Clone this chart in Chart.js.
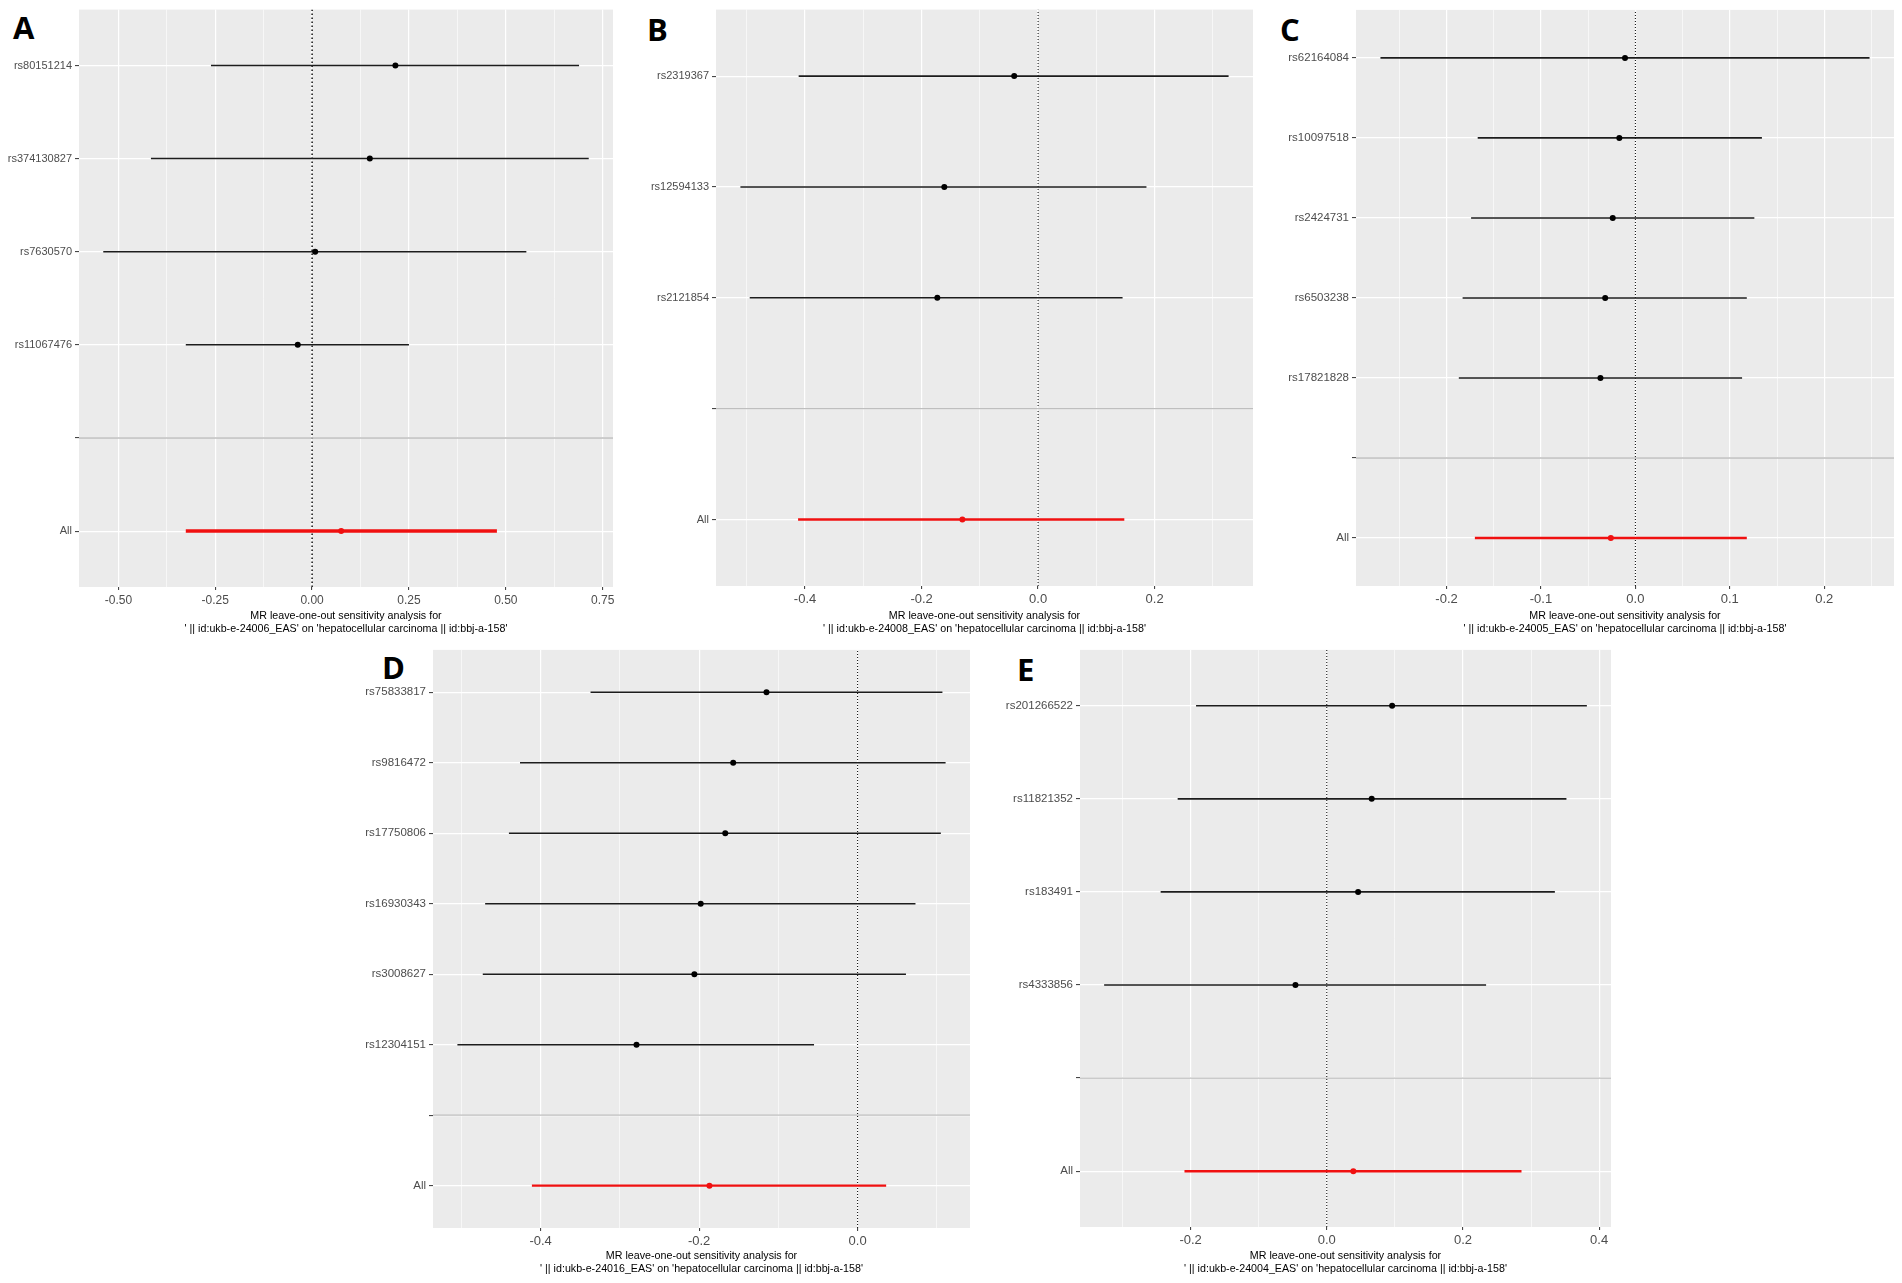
<!DOCTYPE html>
<html>
<head>
<meta charset="utf-8">
<script src="https://cdn.jsdelivr.net/npm/chart.js@4.4.1/dist/chart.umd.min.js"></script>
<style>
  html, body { margin: 0; padding: 0; background: #fff; }
  body { width: 1902px; height: 1283px; position: relative; overflow: hidden; }
  canvas { position: absolute; }
  .tag { position: absolute; font-family: 'Open Sans', sans-serif; font-weight: 700; font-size: 31px; line-height: 1; color: #000; }
</style>
</head>
<body>
<div class="tag" style="left:13px;top:12px">A</div>
<div class="tag" style="left:647px;top:14px">B</div>
<div class="tag" style="left:1280px;top:14px">C</div>
<div class="tag" style="left:382px;top:652px">D</div>
<div class="tag" style="left:1017px;top:654px">E</div>
<canvas id="chartA"></canvas>
<canvas id="chartB"></canvas>
<canvas id="chartC"></canvas>
<canvas id="chartD"></canvas>
<canvas id="chartE"></canvas>
<script>
// ---- data, rows listed top to bottom, '' = separator row ----
const snpsA = ['rs80151214', 'rs374130827', 'rs7630570', 'rs11067476', '', 'All'];
const estA  = [0.215, 0.149, 0.008, -0.037, null, 0.075];
const lowA  = [-0.261, -0.416, -0.539, -0.326, null, -0.326];
const highA = [0.689, 0.714, 0.553, 0.250, null, 0.477];
const ticksA = [-0.5, -0.25, 0, 0.25, 0.5, 0.75];
const tickLabelsA = ['-0.50', '-0.25', '0.00', '0.25', '0.50', '0.75'];

const snpsB = ['rs2319367', 'rs12594133', 'rs2121854', '', 'All'];
const estB  = [-0.041, -0.161, -0.173, null, -0.130];
const lowB  = [-0.411, -0.511, -0.495, null, -0.412];
const highB = [0.327, 0.186, 0.145, null, 0.148];
const ticksB = [-0.4, -0.2, 0, 0.2];
const tickLabelsB = ['-0.4', '-0.2', '0.0', '0.2'];

const snpsC = ['rs62164084', 'rs10097518', 'rs2424731', 'rs6503238', 'rs17821828', '', 'All'];
const estC  = [-0.011, -0.017, -0.024, -0.032, -0.037, null, -0.026];
const lowC  = [-0.270, -0.167, -0.174, -0.183, -0.187, null, -0.170];
const highC = [0.248, 0.134, 0.126, 0.118, 0.113, null, 0.118];
const ticksC = [-0.2, -0.1, 0, 0.1, 0.2];
const tickLabelsC = ['-0.2', '-0.1', '0.0', '0.1', '0.2'];

const snpsD = ['rs75833817', 'rs9816472', 'rs17750806', 'rs16930343', 'rs3008627', 'rs12304151', '', 'All'];
const estD  = [-0.115, -0.157, -0.167, -0.198, -0.206, -0.279, null, -0.187];
const lowD  = [-0.337, -0.426, -0.440, -0.470, -0.473, -0.505, null, -0.411];
const highD = [0.107, 0.111, 0.105, 0.073, 0.061, -0.055, null, 0.036];
const ticksD = [-0.4, -0.2, 0];
const tickLabelsD = ['-0.4', '-0.2', '0.0'];

const snpsE = ['rs201266522', 'rs11821352', 'rs183491', 'rs4333856', '', 'All'];
const estE  = [0.096, 0.066, 0.046, -0.046, null, 0.039];
const lowE  = [-0.192, -0.219, -0.244, -0.327, null, -0.209];
const highE = [0.382, 0.352, 0.335, 0.234, null, 0.286];
const ticksE = [-0.2, 0, 0.2, 0.4];
const tickLabelsE = ['-0.2', '0.0', '0.2', '0.4'];

const exposures = ['ukb-e-24006_EAS', 'ukb-e-24008_EAS', 'ukb-e-24005_EAS', 'ukb-e-24016_EAS', 'ukb-e-24004_EAS'];
const outcome = 'hepatocellular carcinoma || id:bbj-a-158';

const FONT = "'Liberation Sans', Arial, sans-serif";
const INK = '#1c1c1c';
const RED = '#f01010';

// ggplot-like background panel
const panelBg = {
  id: 'panelBg',
  beforeDraw(chart) {
    const a = chart.chartArea, c = chart.ctx;
    c.save();
    c.fillStyle = '#EBEBEB';
    c.fillRect(a.left, a.top, a.right - a.left, a.bottom - a.top);
    c.restore();
  }
};

function expandRange(low, high) {
  const vals = low.concat(high).filter(v => v !== null).concat([0]);
  const mn = Math.min(...vals), mx = Math.max(...vals);
  const pad = (mx - mn) * 0.05;
  return [mn - pad, mx + pad];
}

function drawPanel(id, box, plot, snps, est, low, high, ticks, tickLabels, exposure, st) {
  const canvas = document.getElementById(id);
  const w = box.right - box.left, h = box.bottom - box.top;
  canvas.style.left = box.left + 'px';
  canvas.style.top = box.top + 'px';
  canvas.style.width = w + 'px';
  canvas.style.height = h + 'px';
  canvas.width = w;
  canvas.height = h;

  const n = snps.length;
  const yOf = i => n - i;
  const range = expandRange(low, high);
  const step = ticks[1] - ticks[0];
  const minors = [];
  for (let v = ticks[0] - step / 2; v < range[1]; v += step) {
    if (v > range[0]) minors.push(v);
  }
  const allTicks = ticks.concat(minors).sort((a, b) => a - b);
  const majorIndex = v => ticks.findIndex(t => Math.abs(t - v) < 1e-9);

  const datasets = [];
  // reference line at zero
  datasets.push({
    type: 'line', data: [{x: 0, y: 0.4}, {x: 0, y: n + 0.6}],
    borderColor: '#000', borderWidth: st.zeroWidth, borderDash: st.dash,
    pointRadius: 0, order: 4
  });
  snps.forEach((s, i) => {
    if (s === '') {
      datasets.push({
        type: 'line', data: [{x: range[0], y: yOf(i)}, {x: range[1], y: yOf(i)}],
        borderColor: '#BEBEBE', borderWidth: 1.3, pointRadius: 0, order: 3
      });
      return;
    }
    const isAll = s === 'All';
    datasets.push({
      type: 'line', data: [{x: low[i], y: yOf(i)}, {x: high[i], y: yOf(i)}],
      borderColor: isAll ? RED : INK, borderWidth: isAll ? st.allWidth : st.barWidth,
      pointRadius: 0, order: 2
    });
  });
  datasets.push({
    type: 'scatter',
    data: est.map((v, i) => ({x: v, y: yOf(i), all: snps[i] === 'All'})).filter(p => p.x !== null),
    pointBackgroundColor: ctx => (ctx.raw && ctx.raw.all) ? RED : '#000',
    pointBorderWidth: 0, pointRadius: st.dot, pointHoverRadius: st.dot, order: 1
  });

  new Chart(canvas, {
    type: 'scatter',
    data: { datasets: datasets },
    plugins: [panelBg],
    options: {
      responsive: false,
      animation: false,
      events: [],
      layout: { padding: { top: plot.top - box.top, right: box.right - plot.right, left: 0, bottom: 0 } },
      plugins: { legend: { display: false }, tooltip: { enabled: false } },
      scales: {
        x: {
          type: 'linear', min: range[0], max: range[1],
          afterBuildTicks: ax => { ax.ticks = allTicks.map(v => ({ value: v })); },
          afterFit: ax => { ax.height = box.bottom - plot.bottom; },
          border: { display: false },
          grid: {
            color: '#FFFFFF',
            lineWidth: c => (c.tick && majorIndex(c.tick.value) < 0) ? 0.6 : 1.2,
            tickColor: c => (c.tick && majorIndex(c.tick.value) < 0) ? 'rgba(0,0,0,0)' : '#333333',
            tickLength: 3, tickWidth: 1
          },
          ticks: {
            autoSkip: false, maxRotation: 0, padding: 3, color: '#4D4D4D',
            font: { family: FONT, size: st.tickSize },
            callback: v => { const k = majorIndex(v); return k < 0 ? '' : tickLabels[k]; }
          },
          title: {
            display: true,
            text: ['MR leave-one-out sensitivity analysis for', "' || id:" + exposure + "' on '" + outcome + "'"],
            color: '#000', font: { family: FONT, size: 10.7, lineHeight: 1.17 },
            padding: { top: 0, bottom: 0 }
          }
        },
        y: {
          type: 'linear', min: 0.4, max: n + 0.6,
          afterBuildTicks: ax => { ax.ticks = snps.map((s, i) => ({ value: yOf(i) })); },
          afterFit: ax => { ax.width = plot.left - box.left; },
          border: { display: false },
          grid: { color: '#FFFFFF', lineWidth: 1.2, tickColor: '#333333', tickLength: 4, tickWidth: 1 },
          ticks: {
            autoSkip: false, padding: 3, color: '#4D4D4D',
            font: { family: FONT, size: st.labelSize },
            callback: v => snps[n - v]
          }
        }
      }
    }
  });
}

drawPanel('chartA', {left: 0, top: 0, right: 630, bottom: 635}, {left: 79, top: 7, right: 613, bottom: 587},
  snpsA, estA, lowA, highA, ticksA, tickLabelsA, exposures[0],
  {barWidth: 1.5, allWidth: 3.5, dot: 3, dash: [1.5, 2.5], zeroWidth: 1.4, tickSize: 12, labelSize: 11});
drawPanel('chartB', {left: 640, top: 0, right: 1270, bottom: 635}, {left: 716, top: 7, right: 1253, bottom: 586},
  snpsB, estB, lowB, highB, ticksB, tickLabelsB, exposures[1],
  {barWidth: 1.6, allWidth: 2.4, dot: 3, dash: [1, 2], zeroWidth: 1, tickSize: 13, labelSize: 11});
drawPanel('chartC', {left: 1275, top: 0, right: 1902, bottom: 635}, {left: 1356, top: 7, right: 1894, bottom: 586},
  snpsC, estC, lowC, highC, ticksC, tickLabelsC, exposures[2],
  {barWidth: 1.6, allWidth: 2.4, dot: 3, dash: [1, 2], zeroWidth: 1, tickSize: 13, labelSize: 11.5});
drawPanel('chartD', {left: 340, top: 640, right: 1000, bottom: 1275}, {left: 433, top: 649, right: 970, bottom: 1228},
  snpsD, estD, lowD, highD, ticksD, tickLabelsD, exposures[3],
  {barWidth: 1.6, allWidth: 2.3, dot: 3, dash: [1, 2], zeroWidth: 1, tickSize: 13, labelSize: 11.5});
drawPanel('chartE', {left: 1000, top: 640, right: 1640, bottom: 1275}, {left: 1080, top: 648, right: 1611, bottom: 1227},
  snpsE, estE, lowE, highE, ticksE, tickLabelsE, exposures[4],
  {barWidth: 1.7, allWidth: 2.5, dot: 3, dash: [1, 2], zeroWidth: 1, tickSize: 13, labelSize: 11.5});
</script>
</body>
</html>
